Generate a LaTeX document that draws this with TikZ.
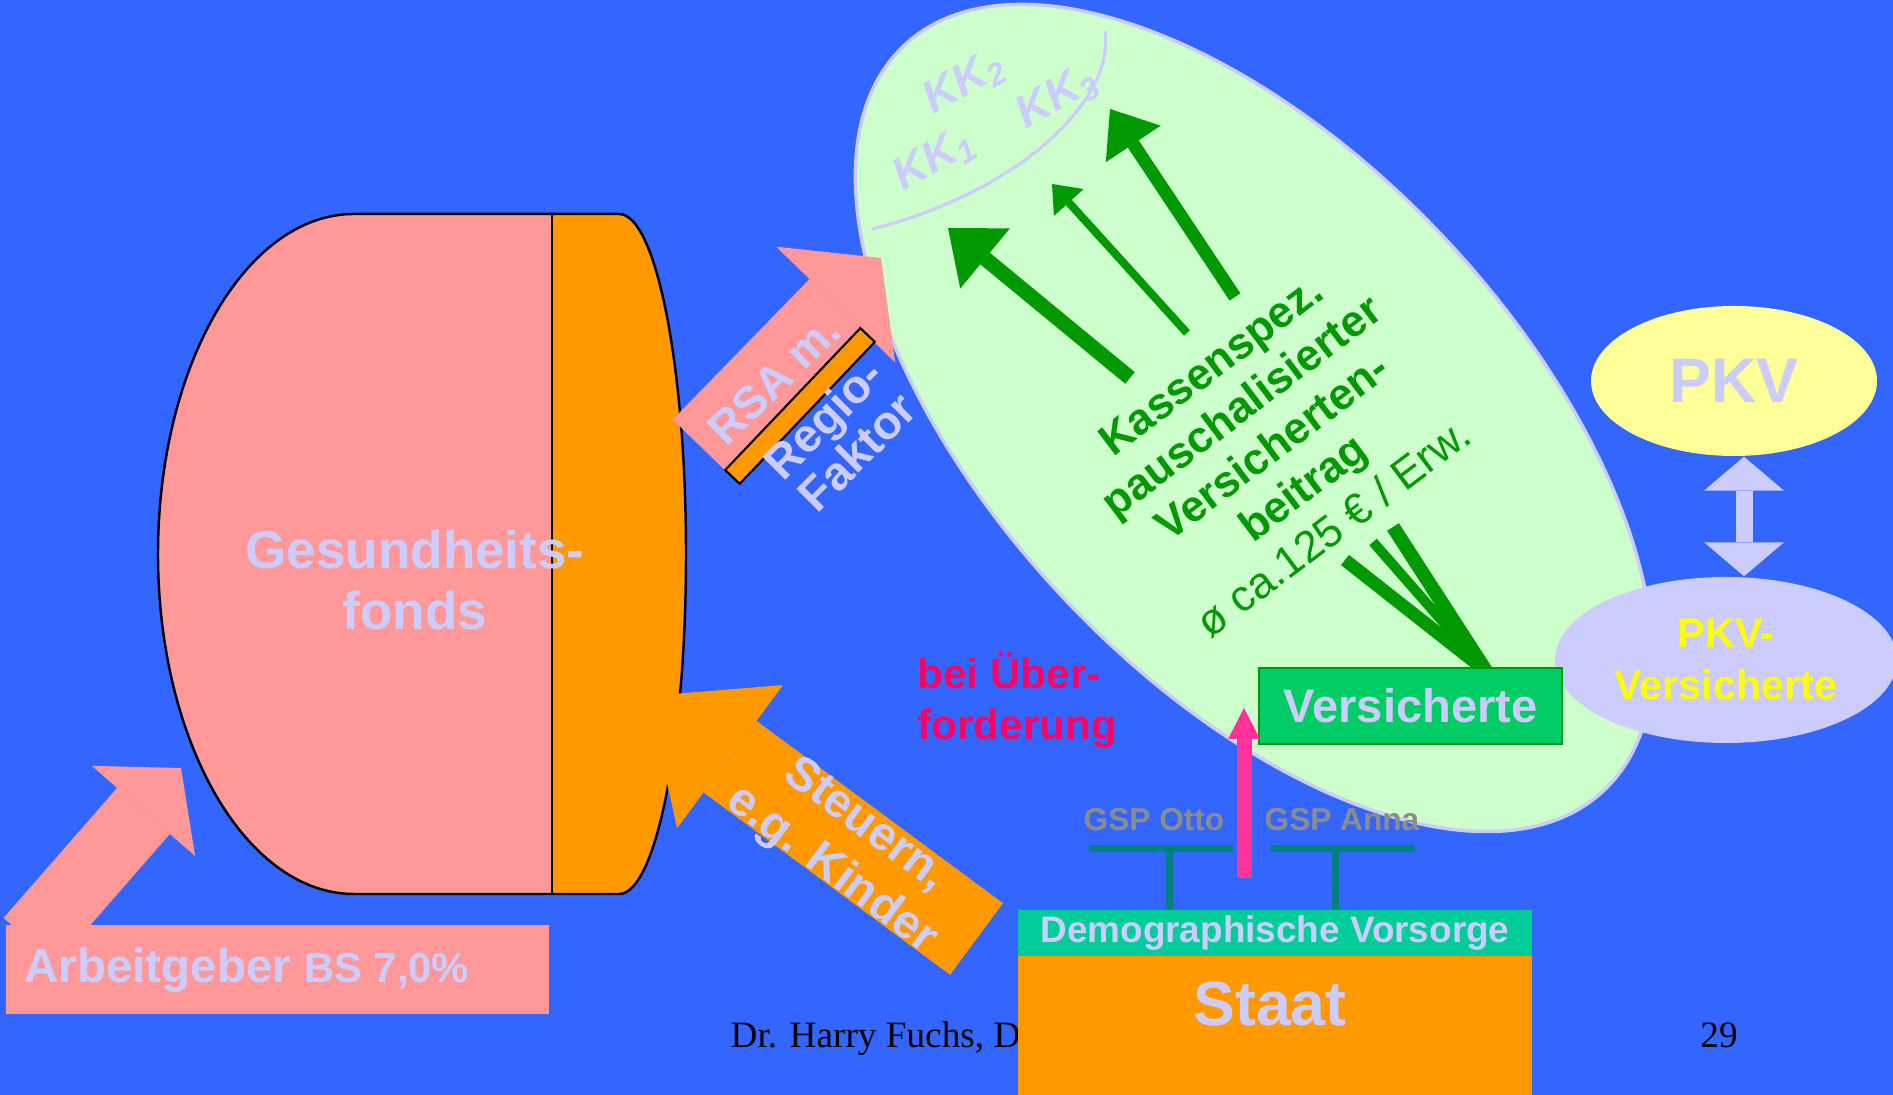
\documentclass[tikz,border=0pt]{standalone}
\usepackage{fontspec}
\setmainfont{Liberation Sans}
\newfontfamily\footfont{Liberation Serif}
\usetikzlibrary{arrows.meta,shapes.geometric}
\definecolor{slideblue}{HTML}{3366FF}
\definecolor{lav}{HTML}{CCCCFF}
\definecolor{mint}{HTML}{CCFFCC}
\definecolor{kgreen}{HTML}{009900}
\definecolor{vgreen}{HTML}{00CC66}
\definecolor{demogreen}{HTML}{00CC99}
\definecolor{gspteal}{HTML}{008080}
\definecolor{gspgray}{HTML}{8C8C8C}
\definecolor{fpink}{HTML}{FF9999}
\definecolor{forange}{HTML}{FF9900}
\definecolor{hotpink}{HTML}{FF3399}
\definecolor{uberred}{HTML}{FF0066}
\definecolor{pkvyellow}{HTML}{FFFF99}
\definecolor{pkvtext}{HTML}{FFFF00}
\newcommand{\fsz}[2]{\fontsize{#1}{#2}\selectfont}
\begin{document}
\begin{tikzpicture}[
  lavtext/.style={text=lav,inner sep=0},
  kklbl/.style={text=lav,inner sep=0,rotate=30,font=\fsz{13}{15}\bfseries\itshape},
  gsplbl/.style={text=gspgray,inner sep=0,font=\fsz{9}{11}\bfseries},
  tbar/.style={gspteal,line width=0.07cm}
]
\useasboundingbox (0,0) rectangle (18.93,10.95);
\fill[slideblue] (0,0) rectangle (18.93,10.95);

\node[ellipse,fill=mint,draw=lav,line width=1pt,inner sep=0,minimum width=10.22cm,minimum height=5.24cm,rotate=-46.8] (gkv) at (12.54,6.77) {};
\draw[lav,line width=0.9pt] (8.72,8.66) .. controls (10.1,9.0) and (11.15,9.9) .. (11.05,10.64);
\node[kklbl] (kk1) at (9.35,9.35) {KK\textsubscript{1}};
\node[kklbl] (kk2) at (9.65,10.12) {KK\textsubscript{2}};
\node[kklbl] (kk3) at (10.58,9.97) {KK\textsubscript{3}};

\coordinate (a1) at (11.30,7.17);
\coordinate (k1) at (9.48,8.67);
\coordinate (a2) at (11.87,7.62);
\coordinate (k2) at (10.52,9.11);
\coordinate (a3) at (12.35,7.98);
\coordinate (k3) at (11.10,9.86);
\draw[kgreen,line width=0.15cm,-{Triangle[width=0.78cm,length=0.48cm,line width=0pt]}] (a1) -- (k1);
\draw[kgreen,line width=0.08cm,-{Triangle[width=0.40cm,length=0.25cm,line width=0pt]}] (a2) -- (k2);
\draw[kgreen,line width=0.13cm,-{Triangle[width=0.66cm,length=0.42cm,line width=0pt]}] (a3) -- (k3);

\node[text=kgreen,align=center,rotate=37,inner sep=0,font=\fsz{12.5}{14.5}\bfseries] (beitrag) at (12.72,6.48)
  {Kassenspez.\\pauschalisierter\\Versicherten-\\beitrag\\{\mdseries ø ca.125 € / Erw.}};

\node[ellipse,fill=pkvyellow,inner sep=0,minimum width=2.86cm,minimum height=1.50cm,text=lav,font=\fsz{17.9}{20}\bfseries] (pkv) at (17.34,7.14) {PKV};
\node[ellipse,fill=lav,inner sep=0,minimum width=3.42cm,minimum height=1.66cm,align=center,text=pkvtext,font=\fsz{11.75}{14.8}\bfseries] (pkvv) at (17.26,4.35) {PKV-\\Versicherte};
\coordinate (pkvlink) at ([xshift=0.1cm]pkv.south);
\draw[lav,line width=0.17cm,{Triangle[width=0.80cm,length=0.34cm,line width=0pt]}-{Triangle[width=0.80cm,length=0.34cm,line width=0pt]}] (pkvlink) -- (pkvlink |- pkvv.north);

\coordinate (conv) at (14.86,4.24);
\coordinate (v1) at (13.45,5.35);
\coordinate (v2) at (13.73,5.53);
\coordinate (v3) at (13.93,5.68);
\draw[kgreen,line width=0.13cm] (v1) -- (conv);
\draw[kgreen,line width=0.10cm] (v2) -- (conv);
\draw[kgreen,line width=0.14cm] (v3) -- (conv);
\node[fill=vgreen,draw=kgreen,line width=0.8pt,inner sep=0,minimum width=3.03cm,minimum height=0.76cm,text=lav,font=\fsz{13.4}{15}\bfseries] (vers) at (14.105,3.89) {Versicherte};

\coordinate (ubtail) at (12.44,2.17);
\coordinate (ubtip) at (12.44,3.87);
\draw[hotpink,line width=0.15cm,-{Triangle[width=0.32cm,length=0.31cm,line width=0pt]}] (ubtail) -- (ubtip);
\node[anchor=west,align=left,inner sep=0,text=uberred,font=\fsz{12}{14.5}\bfseries] (ueber) at (9.17,3.95) {bei Über-\\forderung};

\fill[fpink] (3.54,8.81) -- (5.52,8.81) -- (5.52,2.01) -- (3.54,2.01) arc[start angle=-90,end angle=-270,x radius=1.96,y radius=3.40] -- cycle;
\fill[forange] (5.52,8.81) -- (6.19,8.81) arc[start angle=90,end angle=-90,x radius=0.67,y radius=3.40] -- (5.52,2.01) -- cycle;
\draw[line width=0.7pt] (3.54,8.81) -- (6.19,8.81) arc[start angle=90,end angle=-90,x radius=0.67,y radius=3.40] -- (3.54,2.01) arc[start angle=-90,end angle=-270,x radius=1.96,y radius=3.40] -- cycle;
\draw[line width=0.7pt] (5.52,8.81) -- (5.52,2.01);
\node[lavtext,align=center,font=\fsz{15.1}{17.6}\bfseries] (fonds) at (4.15,5.15) {Gesundheits-\\fonds};

\coordinate (rsatail) at (6.99,6.50);
\coordinate (rsatip) at (8.81,8.37);
\draw[fpink,line width=0.73cm,-{Triangle[width=1.66cm,length=0.65cm,line width=0pt]}] (rsatail) -- (rsatip);
\node[draw,fill=forange,line width=0.6pt,inner sep=0,minimum width=1.96cm,minimum height=0.20cm,rotate=46.4] (regiobar) at (8.00,6.89) {};
\node[lavtext,rotate=44,font=\fsz{13}{15}\bfseries] (rsa) at (7.74,7.15) {RSA m.};
\node[lavtext,align=center,rotate=45,font=\fsz{13.4}{13.4}\bfseries] (regio) at (8.40,6.60) {Regio-\\Faktor};

\coordinate (sttail) at (9.765,1.56);
\coordinate (sttip) at (6.48,3.99);
\draw[forange,line width=0.89cm,-{Triangle[width=1.78cm,length=1.02cm,line width=0pt]}] (sttail) -- (sttip);
\node[lavtext,align=center,rotate=-36.6,font=\fsz{13.5}{16}\bfseries] (steuern) at (8.48,2.47) {Steuern,\\e.g. Kinder};

\coordinate (agtail) at (0.30,1.54);
\coordinate (agtip) at (1.81,3.27);
\draw[fpink,line width=0.70cm,-{Triangle[width=1.37cm,length=0.57cm,line width=0pt]}] (agtail) -- (agtip);
\node[fill=fpink,inner sep=0,minimum width=5.43cm,minimum height=0.89cm] (agbox) at (2.775,1.255) {};
\node[lavtext,anchor=base west] (ag) at (0.24,1.12) {\fsz{13.5}{15}\bfseries Arbeitgeber \fsz{11.9}{14}BS 7,0\%};

\node[gsplbl] (otto) at (11.54,2.75) {GSP Otto};
\node[gsplbl] (anna) at (13.42,2.75) {GSP Anna};
\node[fill=demogreen,inner sep=0,minimum width=5.14cm,minimum height=0.46cm,text=lav,font=\fsz{10.5}{12}\bfseries] (demo) at (12.75,1.62) {Demographische Vorsorge};
\coordinate (ottobar) at (11.69,2.46);
\coordinate (annabar) at (13.35,2.46);
\draw[tbar] ([xshift=-0.80cm]ottobar) -- ([xshift=0.64cm]ottobar);
\draw[tbar] (ottobar) -- (ottobar |- demo.north);
\draw[tbar] ([xshift=-0.64cm]annabar) -- ([xshift=0.80cm]annabar);
\draw[tbar] (annabar) -- (annabar |- demo.north);

\node[anchor=base west,inner sep=0,font=\footfont\fsz{10.6}{12}] (autor) at (7.30,0.47) {Dr. Harry Fuchs, D};
\node[anchor=base,inner sep=0,font=\footfont\fsz{10.6}{12}] (seite) at (17.19,0.47) {29};
\node[fill=forange,inner sep=0,minimum width=5.14cm,minimum height=1.39cm] (staat) at (12.75,0.695) {};
\node[lavtext,font=\fsz{17.8}{20}\bfseries] (staatlbl) at (12.70,0.91) {Staat};
\end{tikzpicture}
\end{document}
